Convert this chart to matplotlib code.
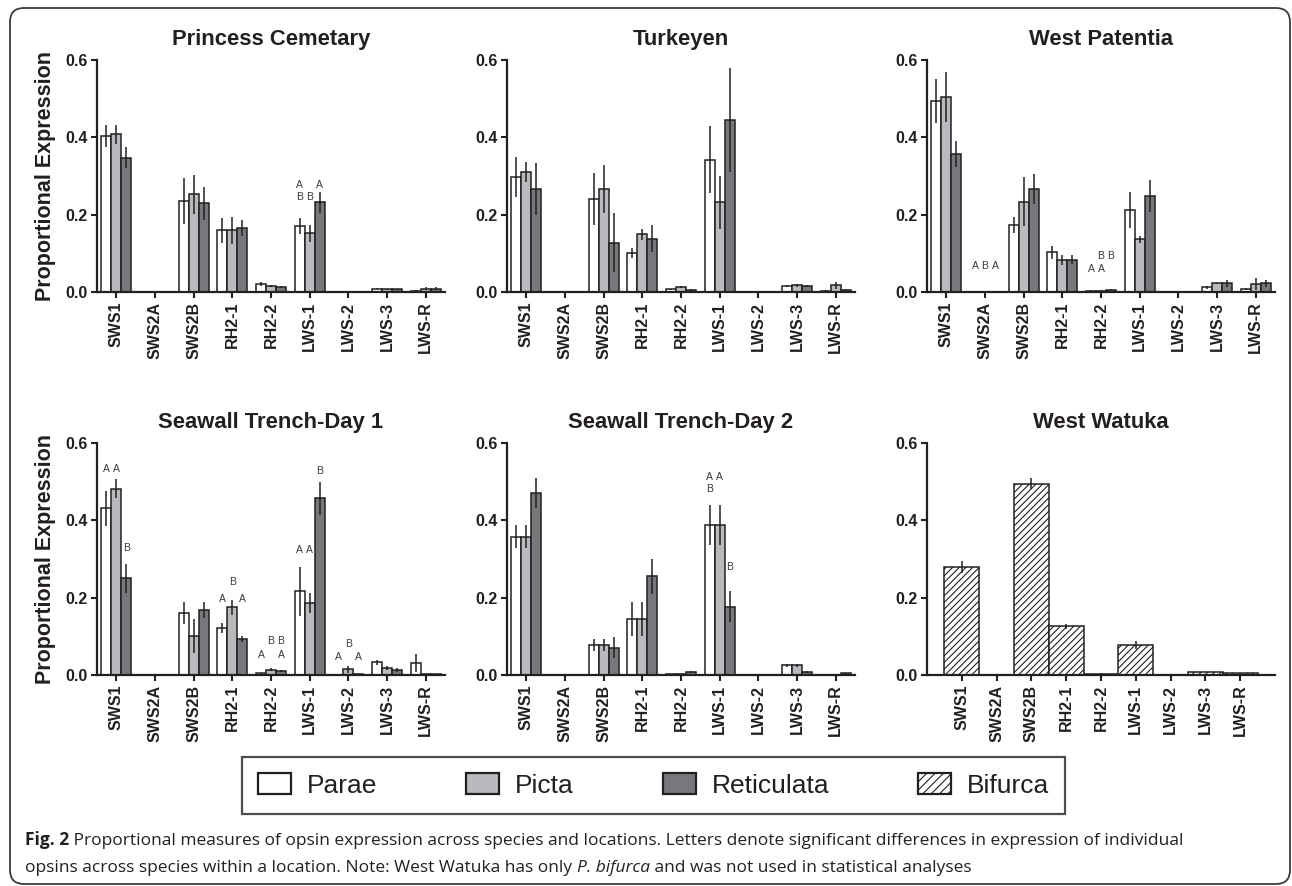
import matplotlib
matplotlib.use("Agg")
import matplotlib.pyplot as plt
from matplotlib.patches import Patch, FancyBboxPatch

plt.rcParams['font.family'] = ['Liberation Sans', 'DejaVu Sans']
plt.rcParams['hatch.linewidth'] = 0.8

INK = '#231f20'

# ---- data ----
categories = ['SWS1', 'SWS2A', 'SWS2B', 'RH2-1', 'RH2-2', 'LWS-1', 'LWS-2', 'LWS-3', 'LWS-R']
species = ['Parae', 'Picta', 'Reticulata', 'Bifurca']

# Princess Cemetary
pc_parae = [0.403, 0, 0.235, 0.160, 0.021, 0.171, 0, 0.009, 0.003]
pc_parae_err = [0.028, 0, 0.060, 0.032, 0.005, 0.021, 0, 0.002, 0.001]
pc_picta = [0.408, 0, 0.253, 0.160, 0.015, 0.152, 0, 0.007, 0.009]
pc_picta_err = [0.025, 0, 0.050, 0.035, 0.003, 0.022, 0, 0.002, 0.003]
pc_retic = [0.347, 0, 0.229, 0.166, 0.014, 0.232, 0, 0.007, 0.009]
pc_retic_err = [0.027, 0, 0.042, 0.020, 0.002, 0.027, 0, 0.002, 0.003]

# Turkeyen
tk_parae = [0.297, 0, 0.240, 0.100, 0.007, 0.342, 0, 0.016, 0.003]
tk_parae_err = [0.052, 0, 0.067, 0.013, 0.002, 0.087, 0, 0.003, 0.001]
tk_picta = [0.311, 0, 0.266, 0.149, 0.013, 0.232, 0, 0.017, 0.017]
tk_picta_err = [0.026, 0, 0.062, 0.015, 0.003, 0.068, 0, 0.003, 0.010]
tk_retic = [0.267, 0, 0.128, 0.138, 0.005, 0.445, 0, 0.016, 0.006]
tk_retic_err = [0.067, 0, 0.077, 0.034, 0.002, 0.134, 0, 0.003, 0.002]

# West Patentia
wp_parae = [0.494, 0, 0.173, 0.103, 0.003, 0.212, 0, 0.012, 0.007]
wp_parae_err = [0.056, 0, 0.021, 0.017, 0.001, 0.046, 0, 0.003, 0.003]
wp_picta = [0.505, 0, 0.234, 0.083, 0.003, 0.137, 0, 0.022, 0.020]
wp_picta_err = [0.065, 0, 0.063, 0.013, 0.001, 0.009, 0, 0.002, 0.015]
wp_retic = [0.356, 0, 0.266, 0.084, 0.006, 0.248, 0, 0.022, 0.022]
wp_retic_err = [0.034, 0, 0.038, 0.011, 0.001, 0.041, 0, 0.008, 0.010]

# Seawall Trench-Day 1
d1_parae = [0.431, 0, 0.160, 0.121, 0.004, 0.216, 0, 0.033, 0.031]
d1_parae_err = [0.046, 0, 0.029, 0.013, 0.001, 0.064, 0, 0.006, 0.024]
d1_picta = [0.482, 0, 0.101, 0.175, 0.014, 0.186, 0.015, 0.018, 0.002]
d1_picta_err = [0.025, 0, 0.044, 0.019, 0.003, 0.026, 0.009, 0.004, 0.001]
d1_retic = [0.250, 0, 0.168, 0.093, 0.010, 0.457, 0.002, 0.013, 0.002]
d1_retic_err = [0.037, 0, 0.021, 0.007, 0.002, 0.043, 0.001, 0.004, 0.001]

# Seawall Trench-Day 2
d2_parae = [0.358, 0, 0.077, 0.144, 0.002, 0.388, 0, 0.025, 0.001]
d2_parae_err = [0.029, 0, 0.016, 0.044, 0.001, 0.052, 0, 0.004, 0.0]
d2_picta = [0.358, 0, 0.077, 0.144, 0.002, 0.388, 0, 0.025, 0.001]
d2_picta_err = [0.029, 0, 0.016, 0.044, 0.001, 0.052, 0, 0.004, 0.0]
d2_retic = [0.471, 0, 0.071, 0.255, 0.007, 0.177, 0, 0.008, 0.004]
d2_retic_err = [0.039, 0, 0.027, 0.046, 0.003, 0.039, 0, 0.002, 0.002]

# West Watuka (bifurca only)
ww_bifurca = [0.280, 0, 0.495, 0.126, 0.003, 0.077, 0, 0.008, 0.004]
ww_bifurca_err = [0.015, 0, 0.015, 0.007, 0.001, 0.010, 0, 0.001, 0.001]

# significance letters: (category, species index, letter, y)
pc_letters = [('LWS-1', 0, 'A', 0.278), ('LWS-1', 0, 'B', 0.245), ('LWS-1', 1, 'B', 0.245),
              ('LWS-1', 2, 'A', 0.278)]
wp_letters = [('SWS2A', 0, 'A', 0.066), ('SWS2A', 1, 'B', 0.066), ('SWS2A', 2, 'A', 0.066),
              ('RH2-2', 0, 'A', 0.060), ('RH2-2', 1, 'A', 0.060),
              ('RH2-2', 1, 'B', 0.093), ('RH2-2', 2, 'B', 0.093)]
d1_letters = [('SWS1', 0, 'A', 0.534), ('SWS1', 1, 'A', 0.534), ('SWS1', 2, 'B', 0.328),
              ('RH2-1', 0, 'A', 0.196), ('RH2-1', 1, 'B', 0.241), ('RH2-1', 2, 'A', 0.196),
              ('RH2-2', 0, 'A', 0.051), ('RH2-2', 1, 'B', 0.088), ('RH2-2', 2, 'B', 0.088),
              ('RH2-2', 2, 'A', 0.051),
              ('LWS-1', 0, 'A', 0.322), ('LWS-1', 1, 'A', 0.322), ('LWS-1', 2, 'B', 0.528),
              ('LWS-2', 0, 'A', 0.046), ('LWS-2', 1, 'B', 0.081), ('LWS-2', 2, 'A', 0.046)]
d2_letters = [('LWS-1', 0, 'A', 0.512), ('LWS-1', 1, 'A', 0.512), ('LWS-1', 0, 'B', 0.481),
              ('LWS-1', 2, 'B', 0.279)]

colors = ['white', '#b9babd', '#77787b']
bar_w = 0.26


def style_axes(ax, title, xlim):
    ax.set_xlim(*xlim)
    ax.set_ylim(0, 0.6)
    ax.set_yticks([0, 0.2, 0.4, 0.6])
    ax.set_yticklabels(['0.0', '0.2', '0.4', '0.6'])
    ax.set_xticks(range(len(categories)))
    ax.set_xticklabels(categories, rotation=90)
    for lab in ax.get_xticklabels() + ax.get_yticklabels():
        lab.set_fontweight('bold')
        lab.set_fontsize(11.5)
        lab.set_color(INK)
    ax.tick_params(axis='both', direction='out', length=4, width=1.5, colors=INK, pad=3)
    for s in ['top', 'right']:
        ax.spines[s].set_visible(False)
    for s in ['left', 'bottom']:
        ax.spines[s].set_linewidth(1.6)
        ax.spines[s].set_color(INK)
    ax.set_title(title, fontsize=15.8, fontweight='bold', color=INK, pad=11)


def grouped_panel(ax, title, series, errs, letters):
    x = range(len(categories))
    for i, (vals, err) in enumerate(zip(series, errs)):
        xs = [c + (i - 1) * bar_w for c in x]
        ax.bar(xs, vals, width=bar_w, color=colors[i], edgecolor=INK, linewidth=1.1, zorder=2)
        ax.errorbar(xs, vals, yerr=err, fmt='none', ecolor=INK, elinewidth=1.1, capsize=0, zorder=3)
    for cat, sp, txt, y in letters:
        xc = categories.index(cat) + (sp - 1) * bar_w
        ax.text(xc, y, txt, ha='center', va='center', fontsize=7.5, color='#3a3a3a')
    style_axes(ax, title, (-0.5, 8.5))


fig = plt.figure(figsize=(12.92, 8.86), dpi=100)

# overlay in pixel units for frame and caption
over = fig.add_axes([0, 0, 1, 1])
over.set_xlim(0, 1292)
over.set_ylim(886, 0)
over.axis('off')
over.add_patch(FancyBboxPatch((10, 8), 1280, 876, boxstyle='round,pad=0,rounding_size=14',
                              facecolor='none', edgecolor='#3c3c3c', linewidth=1.3))

W, H = 1292.0, 886.0
lefts = [97, 507, 927]
width = 348
tops = [60, 443]
height = 232

axes = []
for r in range(2):
    for c in range(3):
        ax = fig.add_axes([lefts[c] / W, 1 - (tops[r] + height) / H, width / W, height / H])
        axes.append(ax)

grouped_panel(axes[0], 'Princess Cemetary', [pc_parae, pc_picta, pc_retic],
              [pc_parae_err, pc_picta_err, pc_retic_err], pc_letters)
grouped_panel(axes[1], 'Turkeyen', [tk_parae, tk_picta, tk_retic],
              [tk_parae_err, tk_picta_err, tk_retic_err], [])
grouped_panel(axes[2], 'West Patentia', [wp_parae, wp_picta, wp_retic],
              [wp_parae_err, wp_picta_err, wp_retic_err], wp_letters)
grouped_panel(axes[3], 'Seawall Trench-Day 1', [d1_parae, d1_picta, d1_retic],
              [d1_parae_err, d1_picta_err, d1_retic_err], d1_letters)
grouped_panel(axes[4], 'Seawall Trench-Day 2', [d2_parae, d2_picta, d2_retic],
              [d2_parae_err, d2_picta_err, d2_retic_err], d2_letters)

# West Watuka
ax = axes[5]
ax.bar(range(len(categories)), ww_bifurca, width=1.0, color='white', edgecolor=INK,
       hatch='/////', linewidth=1.1, zorder=2)
ax.errorbar(range(len(categories)), ww_bifurca, yerr=ww_bifurca_err, fmt='none',
            ecolor=INK, elinewidth=1.1, capsize=0, zorder=3)
style_axes(ax, 'West Watuka', (-1, 9))

for ax in (axes[0], axes[3]):
    ax.set_ylabel('Proportional Expression', fontsize=15.5, fontweight='bold', color=INK)
    ax.yaxis.set_label_coords(-0.117, 0.5)

# legend
handles = [Patch(facecolor=colors[0], edgecolor=INK, linewidth=1.6),
           Patch(facecolor=colors[1], edgecolor=INK, linewidth=1.6),
           Patch(facecolor=colors[2], edgecolor=INK, linewidth=1.6),
           Patch(facecolor='white', edgecolor=INK, linewidth=1.6, hatch='////')]
leg = fig.legend(handles, species, loc='center', bbox_to_anchor=(653.5 / W, 1 - 785.5 / H),
                 ncol=4, fontsize=19, frameon=True, fancybox=False, edgecolor=INK,
                 handlelength=1.25, handleheight=0.85, handletextpad=0.6, columnspacing=3.38,
                 borderpad=0.6)
leg.get_frame().set_linewidth(1.6)
for t in leg.get_texts():
    t.set_color(INK)

# caption
fig.canvas.draw()
renderer = fig.canvas.get_renderer()
cap_size = 12.5
cap_font = 'Open Sans'


def put(x, y, s, **kw):
    t = over.text(x, y, s, fontsize=cap_size, family=cap_font, color=INK, va='baseline', **kw)
    bb = t.get_window_extent(renderer)
    return x + bb.width


x = put(25, 845, 'Fig. 2', fontweight='bold')
put(x, 845, ' Proportional measures of opsin expression across species and locations. '
    'Letters denote significant differences in expression of individual')
x = put(25, 872, 'opsins across species within a location. Note: West Watuka has only ')
x = put(x, 872, 'P. bifurca', style='italic')
put(x, 872, ' and was not used in statistical analyses')

fig.savefig('out.png', dpi=100)
